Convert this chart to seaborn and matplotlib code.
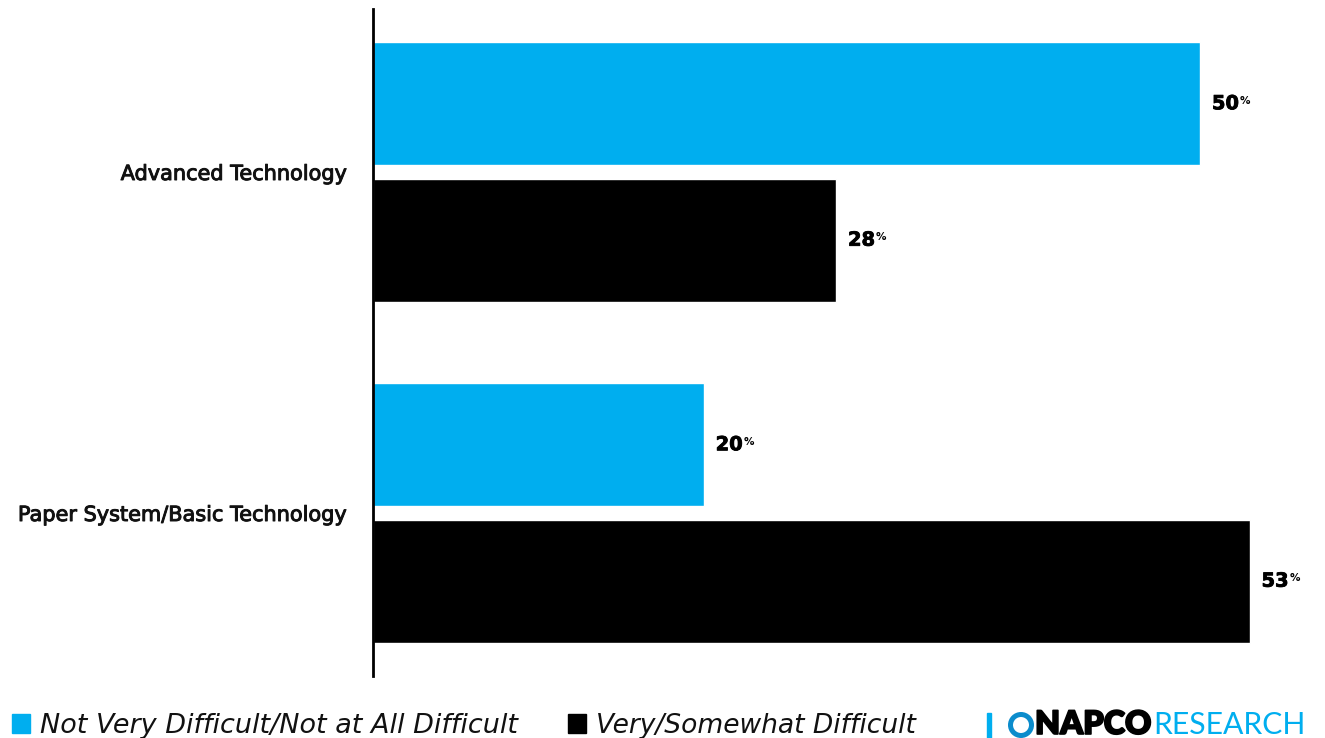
import matplotlib
matplotlib.use("Agg")
import matplotlib.pyplot as plt
import matplotlib.patheffects as pe
from matplotlib.patches import Rectangle, Circle
import seaborn as sns
import pandas as pd

# Survey results: share of respondents by technology type
categories = ["Advanced Technology", "Paper System/Basic Technology"]
series_names = ["Not Very Difficult/Not at All Difficult", "Very/Somewhat Difficult"]
not_difficult = [50, 20]
difficult = [28, 53]
colors = ["#00AEEF", "#000000"]

df = pd.DataFrame({
    "category": categories * 2,
    "series": [series_names[0]] * 2 + [series_names[1]] * 2,
    "value": not_difficult + difficult,
})

sns.set_theme(style="white")
plt.rcParams["font.family"] = ["DejaVu Sans"]

W, H = 1325, 738
fig = plt.figure(figsize=(W / 100, H / 100), dpi=100)
renderer = fig.canvas.get_renderer()


def fx(px):
    return px / W


def fy(px):
    return 1 - px / H


def fit_width(txt, target_px):
    """Scale a text's font size so that it spans target_px pixels."""
    w = txt.get_window_extent(renderer).width
    txt.set_fontsize(txt.get_fontsize() * target_px / w)


ax = fig.add_axes([fx(373), fy(676), 1 - fx(373), (676 - 9) / H])

sns.barplot(data=df, y="category", x="value", hue="series", orient="h",
            palette=colors, hue_order=series_names, order=categories,
            width=0.8, gap=0.1, saturation=1, legend=False, ax=ax)

ax.set_xlim(0, 57.55)
ax.set_ylim(1.478, -0.478)
ax.set_xlabel("")
ax.set_ylabel("")
ax.set_xticks([])
for side in ["top", "right", "bottom"]:
    ax.spines[side].set_visible(False)
ax.spines["left"].set_color("black")
ax.spines["left"].set_linewidth(2)
ax.tick_params(axis="y", length=0, pad=18.5)
for lbl in ax.get_yticklabels():
    lbl.set_fontsize(15)
    lbl.set_color("#111111")
    lbl.set_path_effects([pe.withStroke(linewidth=0.7, foreground="#111111")])

# value labels with a small raised percent sign
for container in ax.containers:
    for bar in container:
        v = bar.get_width()
        y = bar.get_y() + bar.get_height() / 2
        t = ax.annotate(f"{v:.0f}", xy=(v, y), xytext=(8.5, 0),
                        textcoords="offset points", va="center", ha="left",
                        fontsize=14, fontweight="bold", color="black")
        t.set_path_effects([pe.withStroke(linewidth=0.6, foreground="black")])
        ax.annotate("%", xy=(1, 0.93), xycoords=t, xytext=(0.5, 0),
                    textcoords="offset points", va="top", ha="left",
                    fontsize=7.5, fontweight="bold", color="black")

# legend along the bottom edge
legend_items = [(12, 40, 477), (568, 596, 320)]
for (sx, tx, tw), name, c in zip(legend_items, series_names, colors):
    fig.patches.append(Rectangle((fx(sx), fy(733)), fx(18), 19 / H,
                                 transform=fig.transFigure, color=c))
    lt = fig.text(fx(tx), fy(733), name, fontsize=18, style="italic",
                  va="baseline", ha="left", color="#111111")
    fit_width(lt, tw)

# brand mark
fig.patches.append(Rectangle((fx(987), fy(738)), fx(4), 25 / H,
                             transform=fig.transFigure, color=colors[0]))
ring = Circle((1021, H - 725), 10.5, transform=None, fill=False,
              edgecolor="#0b8ccc", linewidth=3.6)
fig.patches.append(ring)
t1 = fig.text(fx(1035), fy(734), "NAPCO", fontsize=21, fontweight="heavy",
              va="baseline", ha="left", color="black",
              family=["Lato", "DejaVu Sans"])
t1.set_path_effects([pe.withStroke(linewidth=1.2, foreground="black")])
fit_width(t1, 116)
t2 = fig.text(fx(1153), fy(734), "RESEARCH", fontsize=21,
              va="baseline", ha="left", color=colors[0],
              family=["Lato", "DejaVu Sans"])
fit_width(t2, 152)

fig.savefig("out.png", dpi=100, facecolor="white")
